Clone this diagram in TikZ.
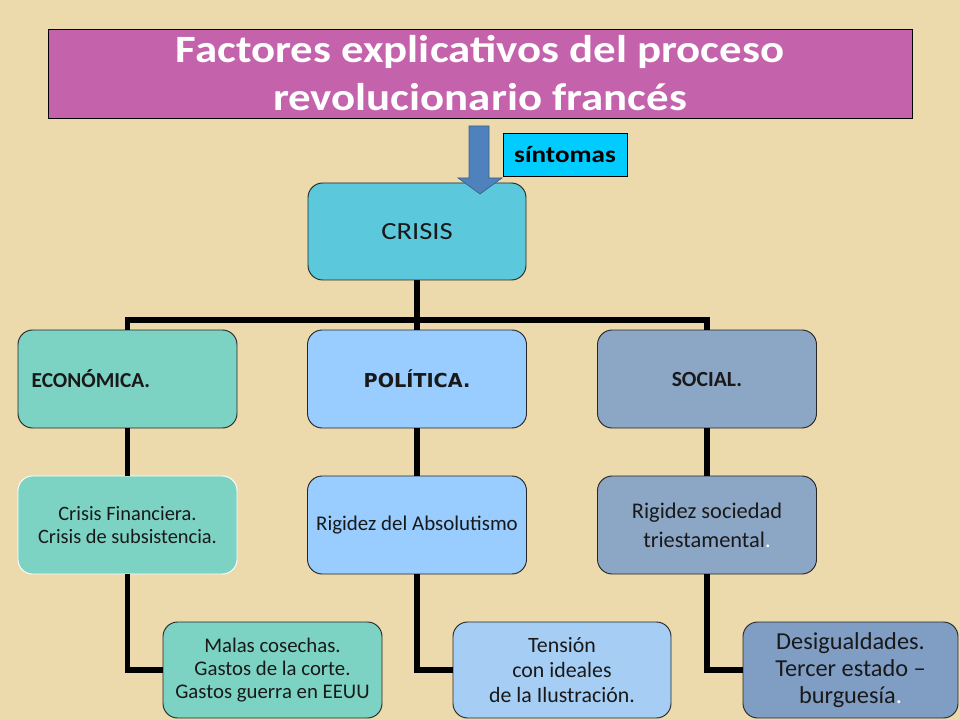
\documentclass[tikz,border=0pt]{standalone}
\usepackage{fontspec}
\setmainfont{Carlito}
\newfontfamily\verd{DejaVu Sans}
\newfontfamily\titfont[FakeStretch=1.16]{Carlito}
\definecolor{bgc}{RGB}{236,218,172}
\definecolor{titc}{RGB}{196,98,172}
\definecolor{sintc}{RGB}{0,204,255}
\definecolor{crisc}{RGB}{92,200,220}
\definecolor{ecoc}{RGB}{124,211,195}
\definecolor{polc}{RGB}{153,204,255}
\definecolor{polcb}{RGB}{166,206,244}
\definecolor{socc}{RGB}{140,166,198}
\definecolor{soccb}{RGB}{128,158,196}
\definecolor{arrc}{RGB}{79,129,189}
\definecolor{txtc}{RGB}{25,25,25}
\tikzset{
  box/.style={draw=black!85, line width=0.7pt, rounded corners=11pt, align=center,
    minimum width=164.25pt, minimum height=73.5pt, inner sep=2pt, text=txtc},
  link/.style={line width=3.8pt, draw=black, line join=miter}
}
\begin{document}
\begin{tikzpicture}[x=0.75pt,y=-0.75pt]
\fill[bgc] (0,0) rectangle (960,720);
\useasboundingbox (0,0) rectangle (960,720);
% title
\node[draw=black, line width=0.6pt, fill=titc, minimum width=648pt, minimum height=66.75pt, text=white,
  font=\titfont\bfseries\fontsize{29}{36}\selectfont, align=center, inner sep=0pt] (title) at (480,73.5)
  {Factores explicativos del proceso\\revolucionario francés};
% síntomas
\node[draw=black, line width=0.6pt, fill=sintc, minimum width=93pt, minimum height=32.25pt, inner sep=0pt,
  font=\titfont\bfseries\fontsize{17.5}{19}\selectfont] (sint) at (565,154.5) {síntomas};
% crisis
\node[box, fill=crisc, minimum width=163.5pt, minimum height=72.75pt, font=\titfont\fontsize{18.5}{20}\selectfont] (crisis) at (417,231.5) {CRISIS};
% arrow
\fill[arrc, draw=arrc!75!black, line width=0.5pt] (469,126) -- (489,126) -- (489,178) -- (502,178) -- (480,194) -- (458,178) -- (469,178) -- cycle;
% level 2
\node[box, fill=ecoc, font=\bfseries\fontsize{16}{18}\selectfont, text width=143.75pt, align=left, inner xsep=10.25pt] (eco) at (127.5,379) {ECONÓMICA.};
\node[box, fill=polc, font=\verd\bfseries\fontsize{14.4}{16}\selectfont] (pol) at (417,379) {POLÍTICA.};
\node[box, fill=socc, font=\bfseries\fontsize{16.2}{18}\selectfont] (soc) at (707,379) {SOCIAL.};
% level 3
\node[box, fill=ecoc, draw=white, font=\fontsize{15.3}{17.25}\selectfont] (eco3) at (127.5,525) {Crisis Financiera.\\Crisis de subsistencia.};
\node[box, fill=polc, font=\fontsize{15.7}{17}\selectfont] (pol3) at (417,525) {Rigidez del Absolutismo};
\node[box, fill=socc, font=\fontsize{16.8}{21.75}\selectfont] (soc3) at (707,525) {Rigidez sociedad\\triestamental\textcolor{white}{.}};
% level 4
\node[box, fill=ecoc, minimum height=72pt, font=\fontsize{15.6}{17.25}\selectfont] (eco4) at (272.5,670) {Malas cosechas.\\Gastos de la corte.\\Gastos guerra en EEUU};
\node[box, fill=polcb, minimum width=163.5pt, minimum height=72pt, font=\fontsize{16.4}{18.75}\selectfont] (pol4) at (562,670) {Tensión\\con ideales\\de la Ilustración.};
\node[box, fill=soccb, minimum width=161.25pt, minimum height=72pt, font=\fontsize{18.25}{20.25}\selectfont] (soc4) at (850.5,670) {Desigualdades.\\Tercer estado --\\burguesía\textcolor{white}{.}};
% connectors
\coordinate (bus) at (417,320);
\draw[link] (crisis.south) -- (bus);
\draw[link] (bus) -| (eco.north);
\draw[link] (bus) -| (soc.north);
\draw[link] (bus) -- (pol.north);
\draw[link] (eco.south) -- (eco3.north);
\draw[link] (pol.south) -- (pol3.north);
\draw[link] (soc.south) -- (soc3.north);
\draw[link] (eco3.south) |- (eco4.west);
\draw[link] (pol3.south) |- (pol4.west);
\draw[link] (soc3.south) |- (soc4.west);
\end{tikzpicture}
\end{document}
